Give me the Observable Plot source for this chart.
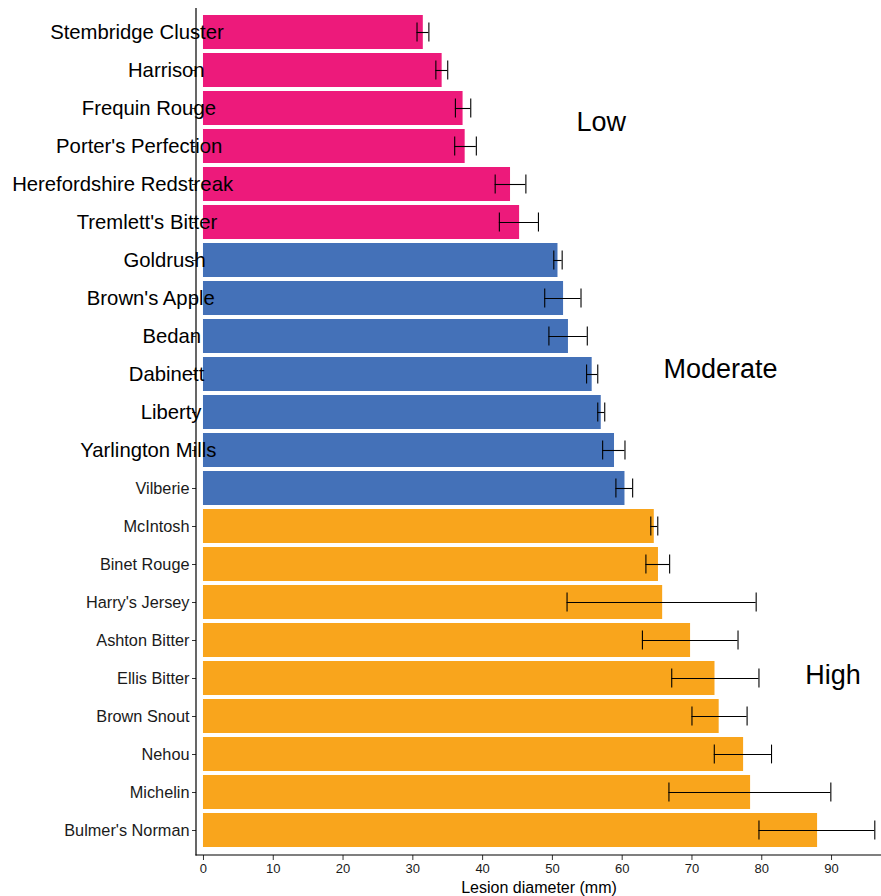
<!DOCTYPE html>
<html>
<head>
<meta charset="utf-8">
<script src="https://cdn.jsdelivr.net/npm/d3@7"></script>
<script src="https://cdn.jsdelivr.net/npm/@observablehq/plot@0.6"></script>
<style>
  html, body { margin: 0; padding: 0; background: #ffffff; }
  #chart { width: 881px; height: 896px; }
  svg { font-family: "Liberation Sans", Arial, Helvetica, sans-serif; }
</style>
</head>
<body>
<div id="chart"></div>
<script>
// ---- data ----
const categories = [
  "Stembridge Cluster", "Harrison", "Frequin Rouge", "Porter's Perfection",
  "Herefordshire Redstreak", "Tremlett's Bitter", "Goldrush", "Brown's Apple",
  "Bedan", "Dabinett", "Liberty", "Yarlington Mills", "Vilberie", "McIntosh",
  "Binet Rouge", "Harry's Jersey", "Ashton Bitter", "Ellis Bitter", "Brown Snout",
  "Nehou", "Michelin", "Bulmer's Norman"
];
const groups = [
  "Low", "Low", "Low", "Low", "Low", "Low",
  "Moderate", "Moderate", "Moderate", "Moderate", "Moderate", "Moderate", "Moderate",
  "High", "High", "High", "High", "High", "High", "High", "High", "High"
];
const means = [31.5, 34.2, 37.2, 37.5, 44.0, 45.3, 50.8, 51.6, 52.3, 55.7, 57.0,
               58.9, 60.4, 64.6, 65.2, 65.8, 69.8, 73.3, 73.9, 77.4, 78.4, 88.0];
const errLow = [30.6, 33.3, 36.1, 36.0, 41.8, 42.4, 50.2, 48.9, 49.5, 54.9, 56.5,
                57.2, 59.1, 64.1, 63.4, 52.1, 62.9, 67.1, 70.0, 73.2, 66.7, 79.6];
const errHigh = [32.3, 35.0, 38.3, 39.1, 46.2, 48.0, 51.4, 54.1, 55.0, 56.5, 57.5,
                 60.4, 61.5, 65.1, 66.8, 79.2, 76.6, 79.6, 77.9, 81.4, 89.9, 96.2];
// categories whose tick labels are printed in the larger type
const largeLabels = categories.slice(0, 12);

const groupNames = ["Low", "Moderate", "High"];
const groupColors = ["#ED1A7B", "#4471B8", "#F9A51C"];

const annotationLabels = ["Low", "Moderate", "High"];
const annotationX = [57.0, 74.1, 90.2];
const annotationRow = ["Frequin Rouge", "Dabinett", "Ellis Bitter"];

const xTicks = [0, 10, 20, 30, 40, 50, 60, 70, 80, 90];
const xDomain = [-1.0, 97.16];
const xLabel = "Lesion diameter (mm)";

// ---- table built from the arrays ----
const rows = categories.map((c, i) => ({
  cultivar: c, group: groups[i], mean: means[i], lo: errLow[i], hi: errHigh[i]
}));
const notes = annotationLabels.map((t, i) => ({label: t, x: annotationX[i], y: annotationRow[i]}));

const W = 881, H = 896;
const mLeft = 196, mRight = 0, mTop = 8, mBottom = 41;

const chart = Plot.plot({
  width: W,
  height: H,
  marginLeft: mLeft,
  marginRight: mRight,
  marginTop: mTop,
  marginBottom: mBottom,
  style: {fontFamily: '"Liberation Sans", Arial, Helvetica, sans-serif', background: "#ffffff", color: "#000"},
  x: {domain: xDomain, axis: null},
  y: {domain: categories, paddingInner: 0.1, paddingOuter: 0.15, axis: null},
  color: {domain: groupNames, range: groupColors},
  marks: [
    Plot.barX(rows, {x1: 0, x2: "mean", y: "cultivar", fill: "group"}),
    Plot.ruleY(rows, {x1: "lo", x2: "hi", y: "cultivar", stroke: "#000", strokeWidth: 1.1}),
    Plot.tickX(rows, {x: "lo", y: "cultivar", stroke: "#000", strokeWidth: 1.1, insetTop: 7.6, insetBottom: 7.6}),
    Plot.tickX(rows, {x: "hi", y: "cultivar", stroke: "#000", strokeWidth: 1.1, insetTop: 7.6, insetBottom: 7.6}),
    Plot.axisY({tickSize: 4, tickPadding: 3, fontSize: 16.3, label: null, stroke: "#333", fill: "#1a1a1a"}),
    Plot.axisX({ticks: xTicks, tickFormat: d => String(d), tickSize: 5, tickPadding: 3, fontSize: 13,
                stroke: "#333", fill: "#1a1a1a", label: xLabel, labelAnchor: "center", labelArrow: "none", labelOffset: 37}),
    Plot.text([notes[0]], {x: "x", y: "y", text: "label", fontSize: 27, fill: "#000", dy: 14}),
    Plot.text([notes[1]], {x: "x", y: "y", text: "label", fontSize: 27, fill: "#000", dy: -5}),
    Plot.text([notes[2]], {x: "x", y: "y", text: "label", fontSize: 27, fill: "#000", dy: -3})
  ]
});

document.getElementById("chart").appendChild(chart);

// axis lines (left and bottom of the panel)
const svg = d3.select(chart.tagName.toLowerCase() === "svg" ? chart : chart.querySelector("svg"));
svg.append("line")
  .attr("x1", mLeft).attr("x2", mLeft).attr("y1", mTop).attr("y2", H - mBottom + 0.5)
  .attr("stroke", "#000").attr("stroke-width", 1.2);
svg.append("line")
  .attr("x1", mLeft - 0.5).attr("x2", W).attr("y1", H - mBottom).attr("y2", H - mBottom)
  .attr("stroke", "#000").attr("stroke-width", 1.2);

// x-axis title in the larger type
svg.selectAll('g[aria-label="x-axis label"]').each(function() {
  this.setAttribute("font-size", "16");
  this.style.fontSize = "16px";
  d3.select(this).selectAll("text").style("font-size", "16px").style("fill", "#000");
});

// larger tick labels: start where the normal-size label starts, drawn in larger type
const bigSet = new Set(largeLabels);
svg.selectAll('g[aria-label="y-axis tick label"] text').each(function() {
  if (!bigSet.has(this.textContent)) return;
  const w = this.getComputedTextLength();
  const x0 = +(this.getAttribute("x") || 0);
  this.setAttribute("text-anchor", "start");
  this.setAttribute("x", x0 - w);
  this.style.fontSize = "20.3px";
  this.style.fill = "#000";
});
// bring the y labels above the axis lines
svg.selectAll('g[aria-label="y-axis tick label"]').raise();
</script>
</body>
</html>
